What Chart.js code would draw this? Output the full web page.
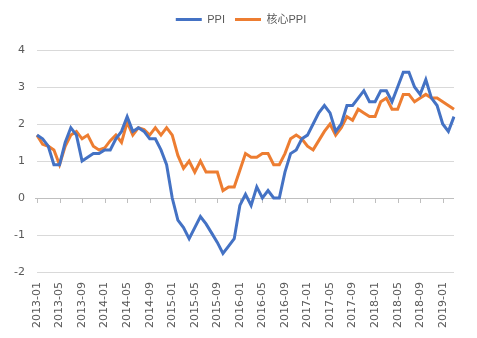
<!DOCTYPE html>
<html>
<head>
<meta charset="utf-8">
<script src="https://cdn.jsdelivr.net/npm/chart.js@4/dist/chart.umd.min.js"></script>
<style>
  html, body { margin: 0; padding: 0; background: #fff; }
  #wrap { width: 477px; height: 338px; position: relative; }
</style>
</head>
<body>
<div id="wrap"><canvas id="c"></canvas></div>
<script>
// months 2013-01 .. 2019-03
const months = [];
for (let y = 2013; y <= 2019; y++) {
  for (let m = 1; m <= 12; m++) {
    if (y === 2019 && m > 3) break;
    months.push(y + '-' + String(m).padStart(2, '0'));
  }
}

const ppi = [
  1.7, 1.6, 1.4, 0.9, 0.9, 1.5, 1.9, 1.7, 1.0, 1.1, 1.2, 1.2,
  1.3, 1.3, 1.6, 1.8, 2.2, 1.8, 1.9, 1.8, 1.6, 1.6, 1.3, 0.9,
  0.0, -0.6, -0.8, -1.1, -0.8, -0.5, -0.7, -0.95, -1.2, -1.5, -1.3, -1.1,
  -0.2, 0.1, -0.2, 0.3, 0.0, 0.2, 0.0, 0.0, 0.7, 1.2, 1.3, 1.6,
  1.7, 2.0, 2.3, 2.5, 2.3, 1.8, 2.0, 2.5, 2.5, 2.7, 2.9, 2.6,
  2.6, 2.9, 2.9, 2.6, 3.0, 3.4, 3.4, 3.0, 2.8, 3.2, 2.7, 2.5,
  2.0, 1.8, 2.2
];

const corePpi = [
  1.7, 1.45, 1.4, 1.3, 0.9, 1.4, 1.7, 1.8, 1.6, 1.7, 1.4, 1.3,
  1.35, 1.55, 1.7, 1.5, 2.05, 1.7, 1.9, 1.85, 1.7, 1.9, 1.7, 1.9,
  1.7, 1.15, 0.8, 1.0, 0.7, 1.0, 0.7, 0.7, 0.7, 0.2, 0.3, 0.3,
  0.75, 1.2, 1.1, 1.1, 1.2, 1.2, 0.9, 0.9, 1.2, 1.6, 1.7, 1.6,
  1.4, 1.3, 1.55, 1.8, 2.0, 1.7, 1.9, 2.2, 2.1, 2.4, 2.3, 2.2,
  2.2, 2.6, 2.7, 2.4, 2.4, 2.8, 2.8, 2.6, 2.7, 2.8, 2.7, 2.7,
  2.6, 2.5, 2.4
];

const yMin = -2, yMax = 4;

// small tick marks on the zero line (Excel style horizontal axis)
const zeroAxisTicks = {
  id: 'zeroAxisTicks',
  beforeDatasetsDraw(chart) {
    const x = chart.scales.x, y = chart.scales.y;
    const y0 = y.getPixelForValue(0);
    const g = chart.ctx;
    g.save();
    g.strokeStyle = '#bfbfbf';
    g.lineWidth = 1;
    g.beginPath();
    g.moveTo(chart.chartArea.left - 2, Math.round(y0) + 0.5);
    g.lineTo(chart.chartArea.right, Math.round(y0) + 0.5);
    for (let i = 0; i < months.length; i += 4) {
      const px = Math.round(x.getPixelForValue(i)) + 0.5;
      g.moveTo(px, y0);
      g.lineTo(px, y0 + 5);
    }
    g.stroke();
    g.restore();
  }
};

// extra room under the legend, and centre it on the whole canvas
const legendSpacer = {
  id: 'legendSpacer',
  beforeInit(chart) {
    const fit = chart.legend.fit;
    chart.legend.fit = function() {
      fit.call(this);
      this.height += 15;
    };
  },
  afterLayout(chart) {
    chart.legend.left += 14;
    chart.legend.right += 14;
  }
};

new Chart(document.getElementById('c'), {
  type: 'line',
  data: {
    labels: months,
    datasets: [{
      label: 'PPI',
      data: ppi,
      borderColor: '#4472C4',
      backgroundColor: '#4472C4',
      borderWidth: 3,
      pointRadius: 0,
      tension: 0
    }, {
      label: '核心PPI',
      data: corePpi,
      borderColor: '#ED7D31',
      backgroundColor: '#ED7D31',
      borderWidth: 3,
      pointRadius: 0,
      tension: 0
    }]
  },
  options: {
    responsive: true,
    maintainAspectRatio: false,
    animation: false,
    layout: { padding: { top: 4, right: 23, left: 0, bottom: 0 } },
    plugins: {
      legend: {
        position: 'top',
        labels: {
          usePointStyle: true,
          pointStyle: 'line',
          pointStyleWidth: 26,
          boxHeight: 3,
          color: '#595959',
          font: { family: "'Liberation Sans', 'Noto Sans CJK SC'", size: 11 },
          padding: 10
        }
      },
      tooltip: { enabled: false }
    },
    scales: {
      x: {
        offset: false,
        grid: { display: false },
        border: { display: false },
        ticks: {
          autoSkip: false,
          minRotation: 90,
          maxRotation: 90,
          color: '#595959',
          font: { family: 'DejaVu Sans', size: 11 },
          padding: 2,
          callback: function(value, index) {
            return index % 4 === 0 ? months[index] : '';
          }
        },
        afterFit: function(scale) { scale.height = 66; }
      },
      y: {
        min: yMin,
        max: yMax,
        grid: { color: '#d9d9d9', drawTicks: false },
        border: { display: false },
        ticks: {
          stepSize: 1,
          color: '#595959',
          font: { family: 'DejaVu Sans', size: 11 },
          padding: 12
        },
        afterFit: function(scale) { scale.width = 37; }
      }
    }
  },
  plugins: [zeroAxisTicks, legendSpacer]
});
</script>
</body>
</html>
